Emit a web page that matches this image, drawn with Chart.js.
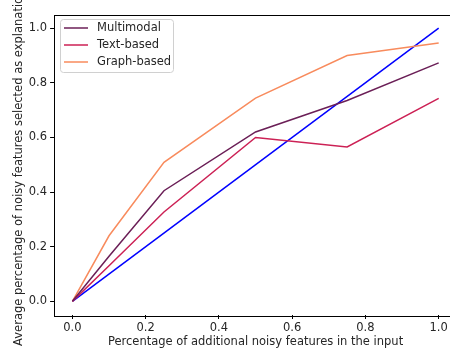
<!DOCTYPE html>
<html>
<head>
<meta charset="utf-8">
<script src="https://cdn.jsdelivr.net/npm/chart.js@4"></script>
<style>
  html, body { margin: 0; padding: 0; background: #fff; overflow: hidden; }
  #wrap { width: 470px; height: 351px; }
</style>
</head>
<body>
<div id="wrap"><canvas id="noiseChart" width="470" height="351"></canvas></div>
<script>
// data
const xValues = [0, 0.1, 0.25, 0.5, 0.75, 1.0];
const multimodal = [0, 0.165, 0.405, 0.62, 0.735, 0.873];
const textBased = [0, 0.13, 0.327, 0.60, 0.565, 0.743];
const graphBased = [0, 0.24, 0.509, 0.744, 0.90, 0.946];
const diagX = [0, 1];
const diagY = [0, 1];
const tickValues = [0, 0.2, 0.4, 0.6, 0.8, 1.0];

const FONT = "'DejaVu Sans', sans-serif";
const SIZE = 11.5;
const pts = (xs, ys) => xs.map((x, i) => ({ x: x, y: ys[i] }));

// matplotlib-like box: full frame + legend inside the axes
const frame = {
    id: 'frame',
    afterDatasetsDraw(chart) {
        const { ctx, chartArea: a } = chart;
        ctx.save();
        ctx.strokeStyle = '#000';
        ctx.lineWidth = 1;
        ctx.strokeRect(Math.round(a.left) + 0.5, Math.round(a.top) + 0.5,
                       Math.round(a.right - a.left), Math.round(a.bottom - a.top));

        // legend
        const items = chart.data.datasets.filter(d => d.label);
        const x0 = 60, y0 = 19, w = 113, h = 53;
        ctx.fillStyle = 'rgba(255,255,255,0.8)';
        ctx.strokeStyle = '#d0d0d0';
        ctx.beginPath();
        ctx.roundRect(x0 + 0.5, y0 + 0.5, w, h, 3);
        ctx.fill();
        ctx.stroke();
        ctx.font = SIZE + 'px ' + FONT;
        ctx.textBaseline = 'middle';
        items.forEach((d, i) => {
            const y = 28 + i * 17;
            ctx.strokeStyle = d.borderColor;
            ctx.lineWidth = 1.5;
            ctx.beginPath();
            ctx.moveTo(64, y);
            ctx.lineTo(88, y);
            ctx.stroke();
            ctx.fillStyle = '#262626';
            ctx.fillText(d.label, 97, y + 0.5);
        });
        ctx.restore();
    }
};

const setTicks = scale => { scale.ticks = tickValues.map(v => ({ value: v })); };

new Chart(document.getElementById('noiseChart'), {
    type: 'line',
    data: {
        datasets: [
            { label: 'Multimodal', data: pts(xValues, multimodal), borderColor: '#6b1f57' },
            { label: 'Text-based', data: pts(xValues, textBased), borderColor: '#cc2155' },
            { label: 'Graph-based', data: pts(xValues, graphBased), borderColor: '#f88b5d' },
            { label: '', data: pts(diagX, diagY), borderColor: '#0000ff' }
        ].map(d => Object.assign(d, { borderWidth: 1.5, pointRadius: 0, tension: 0, fill: false }))
    },
    options: {
        responsive: false,
        animation: false,
        layout: { padding: { left: 12, right: 13, top: 14.5, bottom: 3 } },
        scales: {
            x: {
                type: 'linear',
                min: -0.05,
                max: 1.05,
                afterBuildTicks: setTicks,
                grid: { drawOnChartArea: false, tickLength: 4, tickColor: '#000', color: '#000' },
                border: { display: false },
                ticks: { color: '#262626', font: { family: FONT, size: SIZE, lineHeight: 1 }, padding: 3,
                         callback: v => v.toFixed(1), maxRotation: 0 },
                title: { display: true, text: 'Percentage of additional noisy features in the input',
                         color: '#262626', font: { family: FONT, size: SIZE, lineHeight: 1 }, padding: { top: 0, bottom: 0 } }
            },
            y: {
                type: 'linear',
                min: -0.05,
                max: 1.05,
                afterBuildTicks: setTicks,
                grid: { drawOnChartArea: false, tickLength: 4, tickColor: '#000', color: '#000' },
                border: { display: false },
                ticks: { color: '#262626', font: { family: FONT, size: SIZE }, padding: 3,
                         callback: v => v.toFixed(1) },
                title: { display: true, text: 'Average percentage of noisy features selected as explanations',
                         color: '#262626', font: { family: FONT, size: SIZE }, padding: { top: 0, bottom: 0 } }
            }
        },
        plugins: {
            legend: { display: false },
            tooltip: { enabled: false }
        }
    },
    plugins: [frame]
});
</script>
</body>
</html>
